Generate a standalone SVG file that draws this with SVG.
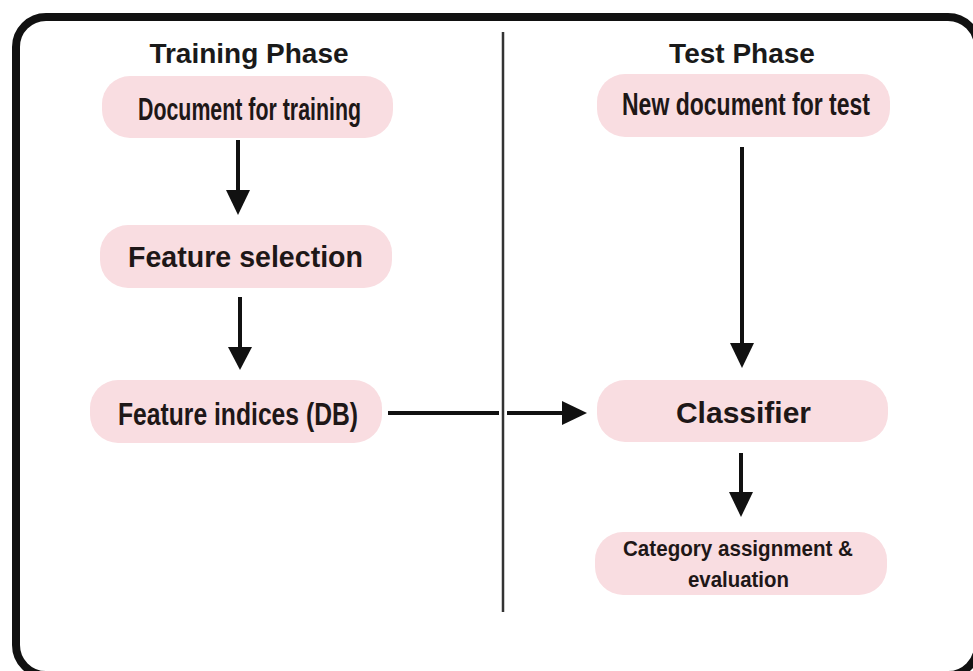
<svg xmlns="http://www.w3.org/2000/svg" width="973" height="671" viewBox="0 0 973 671">
<style>
.pill{fill:#f9dde1;}
.t{font-family:"Liberation Sans",Arial,sans-serif;font-weight:bold;fill:#1e1717;text-anchor:middle;}
.h{font-size:28px;fill:#1a1a1a;}
.c{font-size:31px;}
.big{font-size:30px;}
.sm{font-size:22px;}
.ln{stroke:#111;stroke-width:4;fill:none;}
.hd{fill:#111;}
</style>
<rect x="0" y="0" width="973" height="671" fill="#ffffff"/>
<rect id="frame" x="16" y="17" width="962" height="658" rx="30" ry="30" fill="none" stroke="#111" stroke-width="8"/>
<line id="divider" x1="503" y1="32" x2="503" y2="612" stroke="#333" stroke-width="2.5"/>
<g id="title-training"><text class="t h" x="249" y="63">Training Phase</text></g>
<g id="title-test"><text class="t h" x="742" y="63">Test Phase</text></g>
<g id="n-doc-train">
<rect class="pill" x="102" y="76" width="291" height="62" rx="28"/>
<text class="t c" x="249.5" y="120" textLength="223" lengthAdjust="spacingAndGlyphs">Document for training</text>
</g>
<g id="n-feature-sel">
<rect class="pill" x="100" y="225" width="292" height="63" rx="28"/>
<text class="t big" x="245.5" y="267" textLength="235" lengthAdjust="spacingAndGlyphs">Feature selection</text>
</g>
<g id="n-feature-idx">
<rect class="pill" x="90" y="380" width="292" height="63" rx="28"/>
<text class="t c" x="238" y="425" textLength="240" lengthAdjust="spacingAndGlyphs">Feature indices (DB)</text>
</g>
<g id="n-doc-test">
<rect class="pill" x="597" y="74" width="293" height="63" rx="28"/>
<text class="t c" x="746" y="115" textLength="248" lengthAdjust="spacingAndGlyphs">New document for test</text>
</g>
<g id="n-classifier">
<rect class="pill" x="597" y="380" width="291" height="62" rx="28"/>
<text class="t big" x="743.5" y="423">Classifier</text>
</g>
<g id="n-category">
<rect class="pill" x="595" y="532" width="292" height="63" rx="28"/>
<text class="t sm" x="738" y="556" textLength="230" lengthAdjust="spacingAndGlyphs">Category assignment &amp;</text>
<text class="t sm" x="738.5" y="587" textLength="101" lengthAdjust="spacingAndGlyphs">evaluation</text>
</g>
<g id="connectors">
<line class="ln" x1="238" y1="140" x2="238" y2="193"/>
<polygon class="hd" points="226,190 250,190 238,215"/>
<line class="ln" x1="240" y1="297" x2="240" y2="350"/>
<polygon class="hd" points="228,347 252,347 240,370"/>
<line class="ln" x1="742" y1="147" x2="742" y2="346"/>
<polygon class="hd" points="730,343 754,343 742,368"/>
<line class="ln" x1="741" y1="453" x2="741" y2="495"/>
<polygon class="hd" points="729,492 753,492 741,517"/>
<line class="ln" x1="388" y1="413" x2="499" y2="413"/>
<line class="ln" x1="507" y1="413" x2="565" y2="413"/>
<polygon class="hd" points="562,401 562,425 587,413"/>
</g>
</svg>
